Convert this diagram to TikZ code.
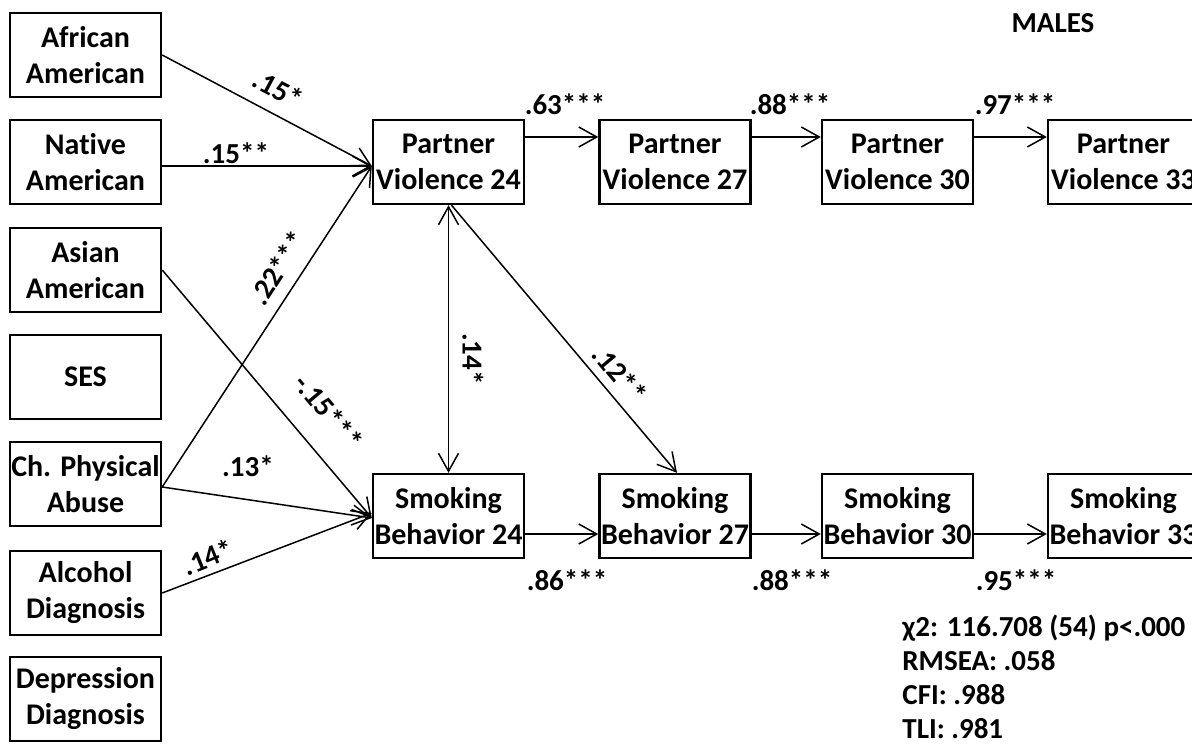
\documentclass[tikz,border=0pt]{standalone}
\usepackage{fontspec}
\setmainfont{Carlito}[Ligatures=NoCommon]
\usetikzlibrary{arrows.meta}
\begin{document}
\begin{tikzpicture}[x=0.5pt,y=-0.5pt,
  box/.style={draw,line width=1.2pt,rectangle,minimum width=75.5pt,minimum height=42pt,inner sep=0pt,align=center,font=\fontsize{15}{18}\selectfont\bfseries},
  path/.style={line width=0.75pt,-{Straight Barb[length=9pt,width=10pt,line width=0.75pt]}},
  dpath/.style={line width=0.75pt,{Straight Barb[length=9pt,width=10pt,line width=0.75pt]}-{Straight Barb[length=9pt,width=10pt,line width=0.75pt]}},
  lab/.style={font=\fontsize{14.5}{16}\selectfont\bfseries,inner sep=0pt}]
\useasboundingbox (0,0) rectangle (1192,744);
% left column
\node[box] (aa) at (85.5,55) {African\\American};
\node[box] (na) at (85.5,162) {Native\\American};
\node[box] (as) at (85.5,270) {Asian\\American};
\node[box] (ses) at (85.5,377) {SES};
\node[box] (cpa) at (85.5,484) {Ch. Physical\\Abuse};
\node[box] (alc) at (85.5,593) {Alcohol\\Diagnosis};
\node[box] (dep) at (85.5,699) {Depression\\Diagnosis};
% partner violence row
\node[box] (pv24) at (448.5,162) {Partner\\Violence 24};
\node[box] (pv27) at (675,162) {Partner\\Violence 27};
\node[box] (pv30) at (897.5,162) {Partner\\Violence 30};
\node[box] (pv33) at (1123.5,162) {Partner\\Violence 33};
% smoking row
\node[box] (sm24) at (448.5,516) {Smoking\\Behavior 24};
\node[box] (sm27) at (675,516) {Smoking\\Behavior 27};
\node[box] (sm30) at (897.5,516) {Smoking\\Behavior 30};
\node[box] (sm33) at (1123.5,516) {Smoking\\Behavior 33};
% paths into PV24
\draw[path] (aa.east) -- ([yshift=-2pt]pv24.west);
\draw[path] ([yshift=-2pt]na.east) -- ([yshift=-2pt]pv24.west);
\draw[path] ([yshift=-1.5pt]cpa.east) -- ([yshift=-2pt]pv24.west);
% paths into SM24
\draw[path] (as.east) -- ([yshift=-1pt]sm24.west);
\draw[path] ([yshift=-1.5pt]cpa.east) -- ([yshift=-1pt]sm24.west);
\draw[path] (alc.east) -- ([yshift=1.5pt]sm24.west);
% chains
\draw[path] ([yshift=12.5pt]pv24.east) -- ([yshift=12.5pt]pv27.west);
\draw[path] ([yshift=12.5pt]pv27.east) -- ([yshift=12.5pt]pv30.west);
\draw[path] ([yshift=12.5pt]pv30.east) -- ([yshift=12.5pt]pv33.west);
\draw[path] ([yshift=-9pt]sm24.east) -- ([yshift=-9pt]sm27.west);
\draw[path] ([yshift=-9pt]sm27.east) -- ([yshift=-9pt]sm30.west);
\draw[path] ([yshift=-9pt]sm30.east) -- ([yshift=-9pt]sm33.west);
% cross paths
\draw[dpath] (pv24.south) -- (sm24.north);
\draw[path] ([xshift=1.5pt]pv24.south) -- ([xshift=1pt]sm27.north);
% labels
\node[lab,rotate=-28] (l1) at (278,89) {.15*};
\node[lab] (l2) at (236,153) {.15**};
\node[lab,rotate=57] (l3) at (278,268) {.22***};
\node[lab,rotate=-50] (l4) at (329,412) {-.15***};
\node[lab] (l5) at (248,466) {.13*};
\node[lab,rotate=22] (l6) at (208,557) {.14*};
\node[lab,rotate=-90] (l7) at (473,359) {.14*};
\node[lab,rotate=-50] (l8) at (620,374) {.12**};
\node[lab] (l9) at (565,104) {.63***};
\node[lab] (l10) at (790,104) {.88***};
\node[lab] (l11) at (1015,104) {.97***};
\node[lab] (l12) at (567,580) {.86***};
\node[lab] (l13) at (792,580) {.88***};
\node[lab] (l14) at (1016,580) {.95***};
\node[lab] (title) at (1053,23) {MALES};
\node[lab,anchor=base west] (f1) at (902,636) {χ2: 116.708 (54) p<.000};
\node[lab,anchor=base west] (f2) at (902,670) {RMSEA: .058};
\node[lab,anchor=base west] (f3) at (902,704) {CFI: .988};
\node[lab,anchor=base west] (f4) at (902,738) {TLI: .981};
\end{tikzpicture}
\end{document}
